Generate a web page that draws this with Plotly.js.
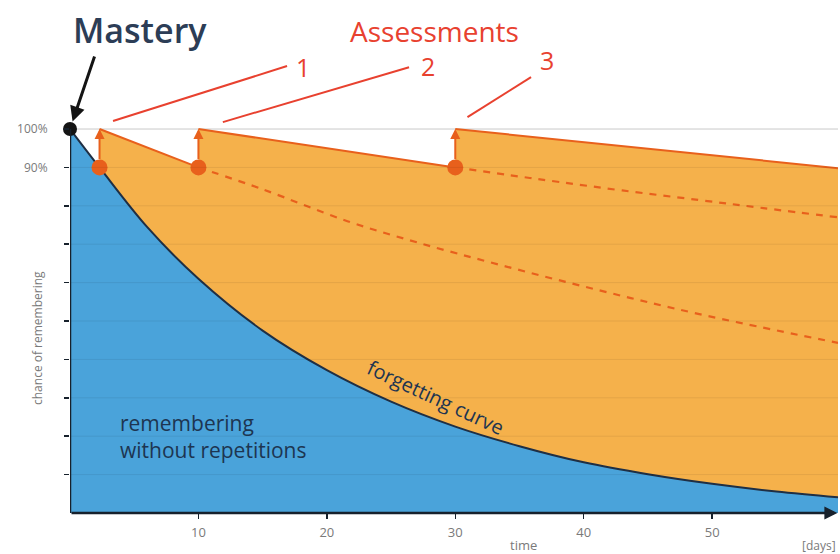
<!DOCTYPE html>
<html><head><meta charset="utf-8">
<script src="https://cdn.plot.ly/plotly-3.0.1.min.js"></script>
<style>html,body{margin:0;padding:0;background:#fff}</style>
</head><body><div id="chart" style="width:840px;height:554px"></div>
<script>
// ---- data ----
const curveDays   = [0, 2.3, 6, 10, 15, 20, 25, 30, 35, 40, 45, 50, 55, 59.8];
const curveRecall = [100, 90, 74.5, 61, 47.5, 37.2, 29, 22.5, 17.4, 13.2, 10.1, 7.6, 5.6, 4.1];
const reviewDays   = [2.3, 10, 30];
const reviewBefore = [90, 90, 90];
const reviewAfter  = [100, 100, 100];
const boostDays   = [2.3, 10, 10, 30, 30, 59.8];
const boostRecall = [100, 90, 100, 90, 100, 89.8];
const decay2Days   = [10, 15, 21.6, 27, 33.5, 41.2, 49, 59.8];
const decay2Recall = [90, 84.3, 76, 70.5, 64.6, 58, 51.8, 44.3];
const decay3Days   = [30, 34.2, 38.1, 43, 49, 54, 59.8];
const decay3Recall = [90, 88, 86.2, 84, 81.5, 79.4, 77];
const masteryDay = [0];
const masteryRecall = [100];
const xTicks = [10, 20, 30, 40, 50];
const yTicks = [10, 20, 30, 40, 50, 60, 70, 80, 90, 100];
const yTickText = ['', '', '', '', '', '', '', '', '90%', '100%'];
const assessmentLabels = ['1', '2', '3'];

// ---- styles ----
const ORANGE_FILL = '#f5b14b';
const ORANGE = '#e8601c';
const BLUE_FILL = '#4aa3da';
const NAVY = '#1f2f44';
const RED = '#e8412f';
const GREY = '#7a7a7a';
const FONT = 'Open Sans, sans-serif';

const traces = [
  {x: boostDays, y: boostRecall, type: 'scatter', mode: 'lines', fill: 'tozeroy',
   fillcolor: ORANGE_FILL, line: {width: 0}, hoverinfo: 'skip'},
  {x: curveDays, y: curveRecall, type: 'scatter', mode: 'lines', fill: 'tozeroy',
   fillcolor: BLUE_FILL, line: {color: NAVY, width: 2, shape: 'spline', smoothing: 1}, hoverinfo: 'skip'},
  {x: decay2Days, y: decay2Recall, type: 'scatter', mode: 'lines',
   line: {color: ORANGE, width: 2.2, dash: '7px,7px', shape: 'spline', smoothing: 1}, hoverinfo: 'skip'},
  {x: decay3Days, y: decay3Recall, type: 'scatter', mode: 'lines',
   line: {color: ORANGE, width: 2.2, dash: '7px,7px', shape: 'spline', smoothing: 1}, hoverinfo: 'skip'},
  {x: boostDays.slice(0,2), y: boostRecall.slice(0,2), type: 'scatter', mode: 'lines', line: {color: ORANGE, width: 2}, hoverinfo: 'skip'},
  {x: boostDays.slice(2,4), y: boostRecall.slice(2,4), type: 'scatter', mode: 'lines', line: {color: ORANGE, width: 2}, hoverinfo: 'skip'},
  {x: boostDays.slice(4,6), y: boostRecall.slice(4,6), type: 'scatter', mode: 'lines', line: {color: ORANGE, width: 2}, hoverinfo: 'skip'},
  {x: reviewDays, y: reviewBefore, type: 'scatter', mode: 'markers', cliponaxis: false,
   marker: {color: ORANGE, size: 16}, hoverinfo: 'skip'},
  {x: masteryDay, y: masteryRecall, type: 'scatter', mode: 'markers', cliponaxis: false,
   marker: {color: '#141414', size: 14}, hoverinfo: 'skip'}
];

const shapes = [];
yTicks.forEach(v => {
  if (v === 100) {
    shapes.push({type: 'line', xref: 'paper', x0: 0, x1: 1, yref: 'y', y0: v, y1: v,
      line: {color: '#c9c9c9', width: 1}, layer: 'below'});
  } else {
    shapes.push({type: 'line', xref: 'paper', x0: 0, x1: 1, yref: 'y', y0: v, y1: v,
      line: {color: 'rgba(0,0,0,0.07)', width: 1}, layer: 'above'});
  }
});
// y axis line
shapes.push({type: 'line', xref: 'x', x0: 0, x1: 0, yref: 'y', y0: 0, y1: 100,
  line: {color: '#17212c', width: 2.5}, layer: 'above'});
// assessment pointer lines
const pointerLines = [
  [3.35, 102.1, 16.9, 116.4],
  [11.9, 101.8, 26.4, 116.1],
  [30.95, 103.1, 35.9, 113.5]
];
pointerLines.forEach(p => shapes.push({type: 'line', xref: 'x', yref: 'y',
  x0: p[0], y0: p[1], x1: p[2], y1: p[3], line: {color: RED, width: 2}}));

const annotations = [];
// review arrows
reviewDays.forEach((d, i) => annotations.push({
  x: d, y: reviewAfter[i], ax: d, ay: reviewBefore[i], xref: 'x', yref: 'y', axref: 'x', ayref: 'y',
  text: '', showarrow: true, arrowhead: 2, arrowsize: 1, arrowwidth: 2, arrowcolor: ORANGE,
  startstandoff: 7, standoff: 0
}));
// x axis arrow
annotations.push({x: 59.75, y: 0, ax: 0, ay: 0, xref: 'x', yref: 'y', axref: 'x', ayref: 'y',
  text: '', showarrow: true, arrowhead: 2, arrowsize: 1, arrowwidth: 2.6, arrowcolor: '#17212c', standoff: 0});
// mastery arrow
annotations.push({x: 0, y: 100, ax: 1.95, ay: 119.3, xref: 'x', yref: 'y', axref: 'x', ayref: 'y',
  text: '', showarrow: true, arrowhead: 2, arrowsize: 1, arrowwidth: 3, arrowcolor: '#141414', standoff: 8});

function px2x(px) { return (px - 70) / 768; }
function py2y(py) { return (513 - py) / 513; }
function label(text, px, py, size, color, extra) {
  annotations.push(Object.assign({text: text, xref: 'paper', yref: 'paper', x: px2x(px), y: py2y(py),
    xanchor: 'center', yanchor: 'middle', showarrow: false, borderpad: 0,
    font: {family: FONT, size: size, color: color}}, extra || {}));
}
label('Mastery', 140, 30, 34, '#2c3d56', {font: {family: FONT, size: 34, color: '#2c3d56', weight: 600}});
label('Assessments', 434, 31, 28, RED);
const labelPos = [[303, 67], [428, 66], [547, 60]];
assessmentLabels.forEach((t, i) => label(t, labelPos[i][0], labelPos[i][1], 25, RED));
label('remembering<br>without repetitions', 119, 436, 21, '#1d3551', {xanchor: 'left', align: 'left'});
label('forgetting curve', 436, 397, 20, '#1d3551', {textangle: 25});
label('time', 523, 545, 13, GREY);
label('[days]', 837, 545, 12, GREY, {xanchor: 'right'});
label('chance of remembering', 37, 338, 12, GREY, {textangle: -90});

const layout = {
  width: 840, height: 554,
  margin: {l: 70, r: 2, t: 0, b: 41, pad: 0},
  paper_bgcolor: '#ffffff', plot_bgcolor: '#ffffff',
  showlegend: false,
  xaxis: {range: [0, 59.8], tickvals: xTicks, ticks: 'outside', ticklen: 5, tickcolor: '#17212c',
    tickwidth: 1.5, showgrid: false, zeroline: false, showline: false, ticklabelstandoff: 2,
    tickfont: {family: FONT, size: 13, color: GREY}, fixedrange: true},
  yaxis: {range: [0, 133.6], tickvals: yTicks, ticktext: yTickText, ticks: 'outside', ticklen: 5,
    tickcolor: '#17212c', tickwidth: 1.5, showgrid: false, zeroline: false, showline: false,
    ticklabelstandoff: 14, tickfont: {family: FONT, size: 12, color: GREY}, fixedrange: true},
  shapes: shapes,
  annotations: annotations
};
Plotly.newPlot('chart', traces, layout, {staticPlot: true, displayModeBar: false});
</script></body></html>
